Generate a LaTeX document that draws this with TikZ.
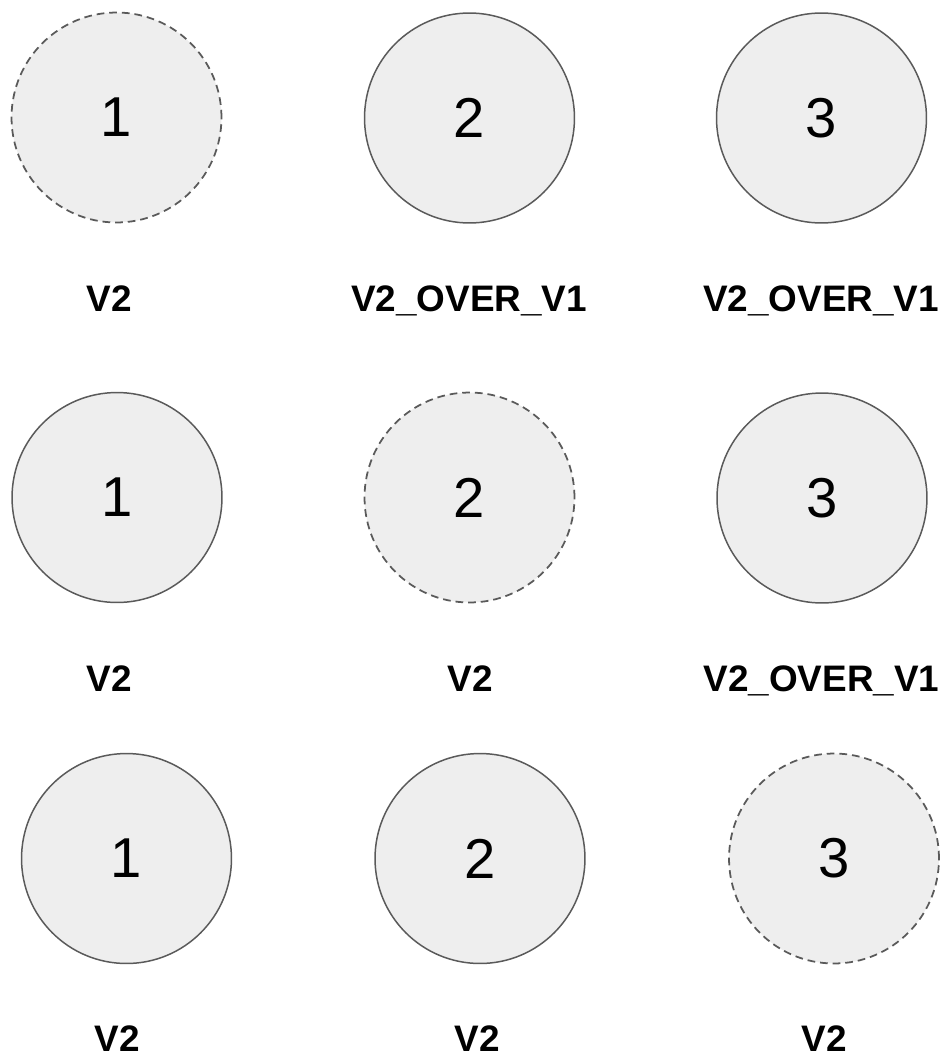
\documentclass[tikz,border=0pt]{standalone}
\usepackage{fontspec}
\setmainfont{Liberation Sans}
\definecolor{cellfill}{HTML}{EEEEEE}
\definecolor{celledge}{HTML}{5A5A5A}

\begin{document}
\begin{tikzpicture}[x=0.02cm, y=-0.02cm, main/.style = {draw=celledge, circle, line width=0.85pt, minimum size=4.2cm, inner sep=0pt, fill=cellfill, font=\fontsize{32}{36}\selectfont}, ghost/.style = {main, line width=1pt, dash pattern=on 4.4pt off 2.8pt}, tag/.style = {anchor=base, font=\fontsize{21}{24}\selectfont\bfseries}]

    \useasboundingbox (0,0) rectangle (945,1059);

    % 1. Wiersz pierwszy
    \node[ghost] (0) at (116.5,117.5) {1};
    \node[main] (1) at (469.5,118) {2};
    \node[main] (2) at (821.5,118) {3};

    % 2. Wiersz drugi
    \node[main] (3) at (117,497.5) {1};
    \node[ghost] (4) at (469.5,497.5) {2};
    \node[main] (5) at (822,498) {3};

    % 3. Wiersz trzeci
    \node[main] (6) at (126.5,858.5) {1};
    \node[main] (7) at (480,858.5) {2};
    \node[ghost] (8) at (834,858.5) {3};

    % 4. Podpisy pod wierzchołkami
    \node[tag] (t0) at (109,311) {V2};
    \node[tag] (t1) at (469,311) {V2\_OVER\_V1};
    \node[tag] (t2) at (821,311) {V2\_OVER\_V1};
    \node[tag] (t3) at (109,691) {V2};
    \node[tag] (t4) at (470,691) {V2};
    \node[tag] (t5) at (821.5,691) {V2\_OVER\_V1};
    \node[tag] (t6) at (117.5,1051) {V2};
    \node[tag] (t7) at (477.5,1051) {V2};
    \node[tag] (t8) at (824.5,1051) {V2};
\end{tikzpicture}
\end{document}
